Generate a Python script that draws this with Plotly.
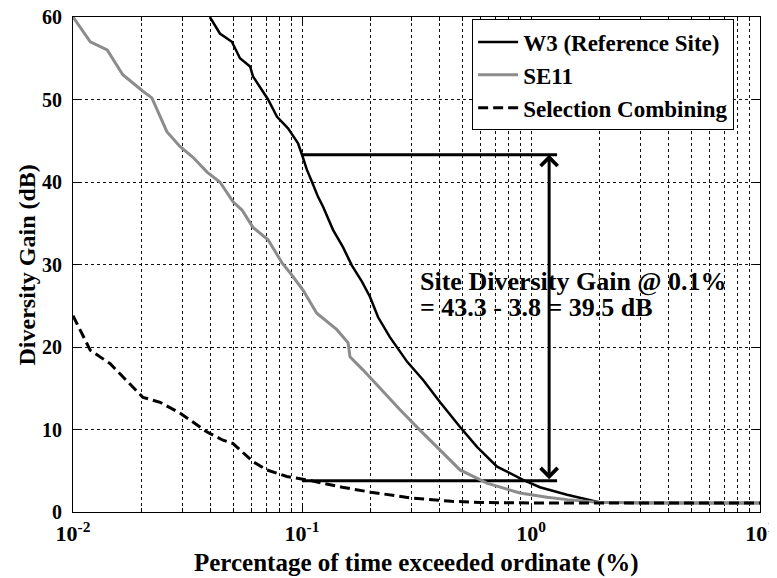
import math
import plotly.graph_objects as go

# ---- data ----
w3_x = [0.0396, 0.0438, 0.0494, 0.0536, 0.0593, 0.0611, 0.0711, 0.0778, 0.0869, 0.0961, 0.100,
        0.105, 0.1106, 0.1175, 0.1236, 0.1366, 0.151, 0.165, 0.183, 0.198, 0.215, 0.242, 0.288,
        0.338, 0.401, 0.490, 0.581, 0.711, 0.923, 1.094, 1.437, 1.866, 2.0, 3.0, 5.0, 10.0]
w3_y = [60, 58.0, 57.0, 55.0, 54.0, 52.8, 50.0, 47.9, 46.5, 44.7, 43.3,
        41.5, 40.0, 38.2, 37.0, 34.2, 32.1, 29.9, 27.9, 26.1, 23.6, 21.2, 18.2,
        16.0, 13.3, 10.3, 7.9, 5.5, 3.9, 3.0, 2.1, 1.3, 1.15, 1.1, 1.1, 1.1]

se11_x = [0.01, 0.0119, 0.0141, 0.0165, 0.0202, 0.0221, 0.0257, 0.0293, 0.0334, 0.0385, 0.0438,
          0.05, 0.0547, 0.0611, 0.0711, 0.0818, 0.0887, 0.098, 0.101, 0.116, 0.142, 0.159, 0.162,
          0.185, 0.219, 0.268, 0.328, 0.401, 0.490, 0.642, 0.895, 1.174, 1.44, 2.0, 3.0, 5.0, 10.0]
se11_y = [60, 57.0, 56.0, 53.0, 51.0, 50.2, 46.1, 44.3, 43.0, 41.2, 40.0,
          37.6, 36.6, 34.5, 33.0, 30.2, 29.0, 27.3, 26.9, 24.1, 22.1, 20.5, 18.8,
          17.2, 15.0, 12.4, 9.9, 7.5, 5.1, 3.5, 2.3, 1.8, 1.5, 1.15, 1.1, 1.1, 1.1]

sc_x = [0.01, 0.0119, 0.0145, 0.0177, 0.0202, 0.024, 0.0293, 0.0385, 0.0452, 0.05, 0.0611,
        0.0703, 0.0859, 0.105, 0.15, 0.2, 0.3, 0.45, 0.6, 1.0, 2.0, 5.0, 10.0]
sc_y = [23.8, 19.6, 18.0, 15.6, 13.9, 13.3, 12.0, 9.7, 8.7, 8.3, 6.1,
        5.1, 4.3, 3.9, 3.0, 2.4, 1.7, 1.3, 1.15, 1.1, 1.1, 1.1, 1.1]

gain_x = [0.1, 1.3]
gain_top = 43.3
gain_bottom = 3.8
arrow_x = 1.2

x_ticks = [0.01, 0.1, 1, 10]
x_ticktext = ['10<sup>-2</sup>', '10<sup>-1</sup>', '10<sup>0</sup>', '10<sup>1</sup>']
x_minor = [m * d for d in (0.01, 0.1, 1) for m in range(2, 10)]
y_ticks = [0, 10, 20, 30, 40, 50, 60]

FONT = 'Liberation Serif'

fig = go.Figure()
fig.add_trace(go.Scatter(x=gain_x, y=[gain_top, gain_top], mode='lines',
                         line=dict(color='black', width=3), showlegend=False, hoverinfo='skip'))
fig.add_trace(go.Scatter(x=gain_x, y=[gain_bottom, gain_bottom], mode='lines',
                         line=dict(color='black', width=3), showlegend=False, hoverinfo='skip'))
fig.add_trace(go.Scatter(x=w3_x, y=w3_y, mode='lines', name='W3 (Reference Site)',
                         line=dict(color='black', width=2.5)))
fig.add_trace(go.Scatter(x=se11_x, y=se11_y, mode='lines', name='SE11',
                         line=dict(color='#8c8c8c', width=3)))
fig.add_trace(go.Scatter(x=sc_x, y=sc_y, mode='lines', name='Selection Combining',
                         line=dict(color='black', width=3, dash='10px,5px')))

fig.add_annotation(x=math.log10(arrow_x), y=gain_top, ax=math.log10(arrow_x), ay=gain_bottom,
                   xref='x', yref='y', axref='x', ayref='y', text='', showarrow=True,
                   arrowhead=4, startarrowhead=4, arrowside='end+start', arrowsize=1.1,
                   arrowwidth=3, arrowcolor='black', standoff=0, startstandoff=0)
fig.add_annotation(x=math.log10(0.321), y=28.0, xref='x', yref='y', xanchor='left', yanchor='middle',
                   text='Site Diversity Gain @ 0.1%', showarrow=False,
                   font=dict(family=FONT, size=26, color='black', weight='bold'))
fig.add_annotation(x=math.log10(0.321), y=24.8, xref='x', yref='y', xanchor='left', yanchor='middle',
                   text='= 43.3 - 3.8 = 39.5 dB', showarrow=False,
                   font=dict(family=FONT, size=26, color='black', weight='bold'))

# axis titles
fig.add_annotation(x=0.5, y=-0.103, xref='paper', yref='paper', xanchor='center', yanchor='middle',
                   text='Percentage of time exceeded ordinate (%)', showarrow=False,
                   font=dict(family=FONT, size=25, color='black', weight='bold'))
fig.add_annotation(x=-0.067, y=0.5, xref='paper', yref='paper', xanchor='center', yanchor='middle',
                   text='Diversity Gain (dB)', showarrow=False, textangle=-90,
                   font=dict(family=FONT, size=24, color='black', weight='bold'))

grid = dict(gridcolor='#111111', gridwidth=1, griddash='3px,3px')
fig.update_layout(
    width=769, height=570,
    margin=dict(l=65, r=17, t=9, b=66),
    paper_bgcolor='white', plot_bgcolor='white',
    font=dict(family=FONT, size=18, color='black', weight='bold'),
    xaxis=dict(type='log', range=[-2, 1], tickvals=x_ticks, ticktext=x_ticktext,
               showline=True, linecolor='black', linewidth=1, mirror='allticks',
               ticks='inside', ticklen=6, tickcolor='black', showgrid=True, **grid,
               minor=dict(tickvals=x_minor, showgrid=True, ticks='inside', ticklen=4,
                          tickcolor='black', gridcolor='#111111', gridwidth=1, griddash='3px,3px'),
               tickfont=dict(family=FONT, size=22, weight='bold'), ticklabelstandoff=2,
               ticklabeloverflow='allow', automargin=False, zeroline=False),
    yaxis=dict(range=[0, 60], tickvals=y_ticks, showline=True, linecolor='black', linewidth=1,
               mirror='allticks', ticks='inside', ticklen=6, tickcolor='black', showgrid=True, **grid,
               tickfont=dict(family=FONT, size=20, weight='bold'), ticklabelstandoff=6,
               ticklabeloverflow='allow', automargin=False, zeroline=False),
    legend=dict(x=0.581, y=0.995, xanchor='left', yanchor='top', bgcolor='white',
                bordercolor='black', borderwidth=1,
                font=dict(family=FONT, size=23, weight='bold'), tracegroupgap=0,
                itemwidth=40),
)

fig.write_html('out.html')
